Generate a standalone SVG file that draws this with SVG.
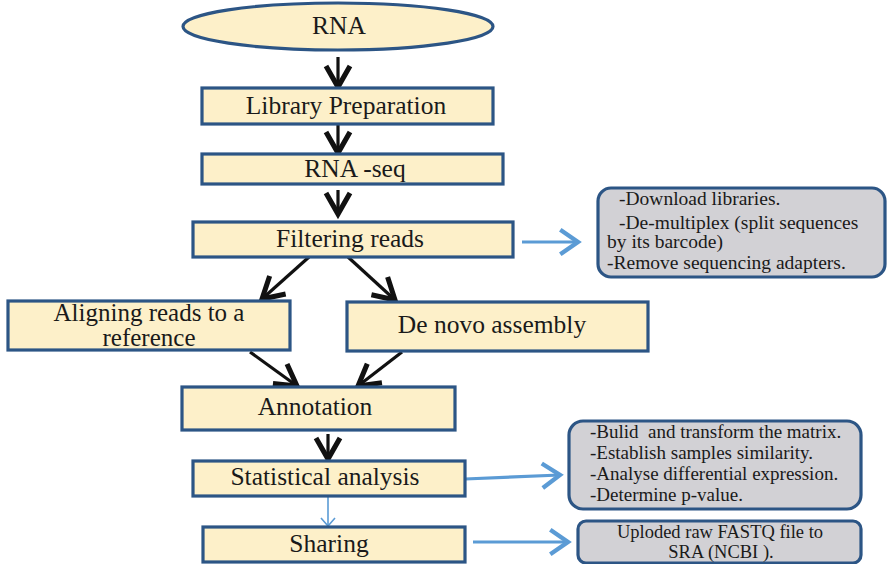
<svg xmlns="http://www.w3.org/2000/svg" width="887" height="564" viewBox="0 0 887 564">
  <style>
    .step { fill: #fdf0c9; stroke: #2c5585; stroke-width: 3.2; }
    .note { fill: #d2d1d5; stroke: #2c5585; stroke-width: 3.2; }
    .lbl { font-family: "Liberation Serif", "Times New Roman", serif; font-size: 25.5px; fill: #1a1a1a; text-anchor: middle; }
    .ntxt { font-family: "Liberation Serif", "Times New Roman", serif; font-size: 19.5px; fill: #1a1a1a; white-space: pre; }
    .flow { stroke: #111; stroke-width: 3.2; fill: none; marker-end: url(#headBlack); }
    .side { stroke: #5b9bd5; stroke-width: 3.2; fill: none; marker-end: url(#headBlue); }
    .thin { stroke: #5b9bd5; stroke-width: 1.6; fill: none; marker-end: url(#headThin); }
  </style>
  <defs>
    <marker id="headBlack" markerUnits="userSpaceOnUse" markerWidth="30" markerHeight="30" viewBox="-16 -10 20 20" refX="0" refY="0" orient="auto">
      <path d="M-14,-8 L0,0 L-14,8" fill="none" stroke="#111" stroke-width="3.4"/>
    </marker>
    <marker id="headBlue" markerUnits="userSpaceOnUse" markerWidth="30" markerHeight="30" viewBox="-16 -11 20 22" refX="0" refY="0" orient="auto">
      <path d="M-13,-9 L0,0 L-13,9" fill="none" stroke="#5b9bd5" stroke-width="3.2"/>
    </marker>
    <marker id="headThin" markerUnits="userSpaceOnUse" markerWidth="20" markerHeight="20" viewBox="-10 -10 12 20" refX="0" refY="0" orient="auto">
      <path d="M-8,-7 L0,0 L-8,7" fill="none" stroke="#5b9bd5" stroke-width="1.6"/>
    </marker>
  </defs>

  <!-- connectors -->
  <g id="connectors">
    <line class="flow" x1="338" y1="57" x2="338" y2="87"/>
    <line class="flow" x1="338" y1="125" x2="338" y2="153"/>
    <line class="flow" x1="338" y1="190" x2="338" y2="214"/>
    <line class="flow" x1="309" y1="257" x2="262" y2="299"/>
    <line class="flow" x1="348" y1="257" x2="395" y2="300"/>
    <line class="flow" x1="250" y1="352" x2="297" y2="386"/>
    <line class="flow" x1="402" y1="352" x2="358" y2="386"/>
    <line class="flow" x1="328" y1="434" x2="328" y2="459"/>
    <line class="thin" x1="328" y1="496" x2="328" y2="526"/>
    <line class="side" x1="522" y1="242" x2="578" y2="242"/>
    <line class="side" x1="465" y1="479" x2="560" y2="475"/>
    <line class="side" x1="473" y1="542" x2="568" y2="542"/>
  </g>

  <!-- workflow steps -->
  <g id="rna">
    <ellipse class="step" cx="338" cy="26.5" rx="155" ry="23.5"/>
    <text class="lbl" x="339" y="34">RNA</text>
  </g>
  <g id="library-preparation">
    <rect class="step" x="202" y="88" width="291" height="36"/>
    <text class="lbl" x="346" y="114">Library Preparation</text>
  </g>
  <g id="rna-seq">
    <rect class="step" x="202" y="154" width="301" height="30"/>
    <text class="lbl" x="355" y="177">RNA -seq</text>
  </g>
  <g id="filtering-reads">
    <rect class="step" x="193" y="222" width="320" height="35"/>
    <text class="lbl" x="350" y="247">Filtering reads</text>
  </g>
  <g id="aligning-reads">
    <rect class="step" x="8" y="301" width="282" height="49"/>
    <text class="lbl" style="font-size:25px"><tspan x="149" y="320.5">Aligning reads to a</tspan><tspan x="149" y="346">reference</tspan></text>
  </g>
  <g id="de-novo-assembly">
    <rect class="step" x="347" y="302" width="301" height="49"/>
    <text class="lbl" x="492" y="333">De novo assembly</text>
  </g>
  <g id="annotation">
    <rect class="step" x="182" y="387" width="273" height="43"/>
    <text class="lbl" x="315" y="415">Annotation</text>
  </g>
  <g id="statistical-analysis">
    <rect class="step" x="193" y="461" width="272" height="35"/>
    <text class="lbl" x="325" y="485">Statistical analysis</text>
  </g>
  <g id="sharing">
    <rect class="step" x="203" y="527" width="262" height="35"/>
    <text class="lbl" x="329" y="552">Sharing</text>
  </g>

  <!-- side notes -->
  <g id="note-filtering">
    <rect class="note" x="598" y="188" width="287" height="89" rx="13"/>
    <text class="ntxt" x="619" y="205">-Download libraries.</text>
    <text class="ntxt" x="619" y="229">-De-multiplex (split sequences</text>
    <text class="ntxt" x="607" y="248">by its barcode)</text>
    <text class="ntxt" x="607" y="269">-Remove sequencing adapters.</text>
  </g>
  <g id="note-statistics">
    <rect class="note" x="569" y="421" width="292" height="88" rx="14"/>
    <text class="ntxt" x="590" y="438" style="font-size:19px">-Bulid  and transform the matrix.</text>
    <text class="ntxt" x="590" y="459" style="font-size:19px">-Establish samples similarity.</text>
    <text class="ntxt" x="590" y="480" style="font-size:19px">-Analyse differential expression.</text>
    <text class="ntxt" x="590" y="501" style="font-size:19px">-Determine p-value.</text>
  </g>
  <g id="note-sharing">
    <rect class="note" x="578" y="521" width="283" height="42" rx="8"/>
    <text class="ntxt" x="720" y="538" text-anchor="middle" style="font-size:18.5px">Uploded raw FASTQ file to</text>
    <text class="ntxt" x="721" y="558" text-anchor="middle" style="font-size:18.5px">SRA (NCBI ).</text>
  </g>
</svg>
